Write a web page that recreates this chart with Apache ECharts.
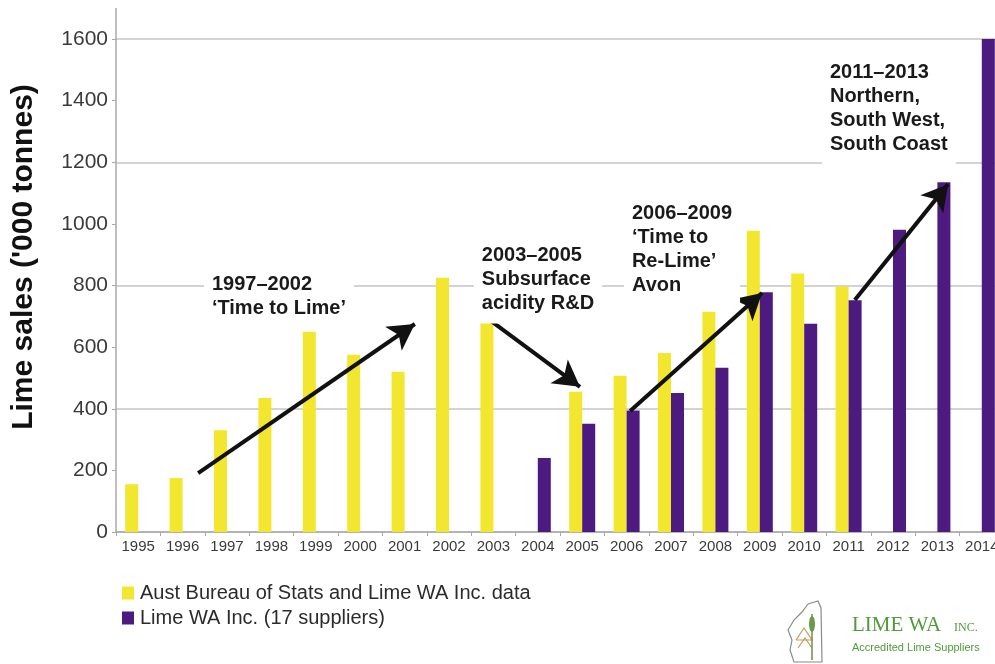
<!DOCTYPE html>
<html>
<head>
<meta charset="utf-8">
<title>Lime sales in Western Australia</title>
<script src="https://cdn.jsdelivr.net/npm/echarts@6/dist/echarts.min.js"></script>
<style>
  html, body { margin: 0; padding: 0; background: #ffffff; overflow: hidden; }
  /* the plot runs slightly past the right edge of the page, so the last bar is cut */
  #chart { width: 1004px; height: 664px; }
</style>
</head>
<body>
<div id="chart"></div>
<script>
// Years on the category axis
const years = ['1995', '1996', '1997', '1998', '1999', '2000', '2001', '2002', '2003', '2004',
               '2005', '2006', '2007', '2008', '2009', '2010', '2011', '2012', '2013', '2014'];

// Lime sales, '000 tonnes
const absData = [155, 175, 330, 435, 650, 575, 520, 825, 700, null,
                 455, 507, 581, 715, 978, 839, 797, null, null, null];
const limeWaData = [null, null, null, null, null, null, null, null, null, 240,
                    351, 394, 451, 533, 778, 676, 752, 981, 1135, 1600];

const seriesNames = ['Aust Bureau of Stats and Lime WA Inc. data', 'Lime WA Inc. (17 suppliers)'];

// Value axis ticks
const yMin = 0, yMax = 1600, yStep = 200, gridStep = 400;

// Campaign trend arrows, in (year index, tonnes) space
const trendFrom = [[1.35, 191], [7.86, 694], [11.08, 393], [16.14, 753]];
const trendTo   = [[6.23, 675], [9.95, 471], [14.05, 776], [18.24, 1129]];

// Campaign notes, anchored at their top-left corner in (year index, tonnes) space
const noteTexts = [
  "1997\u20132002\n\u2018Time to Lime\u2019",
  "2003\u20132005\nSubsurface\nacidity R&D",
  "2006\u20132009\n\u2018Time to\nRe-Lime\u2019\nAvon",
  "2011\u20132013\nNorthern,\nSouth West,\nSouth Coast"
];
const noteAnchors = [[1.66, 841], [7.74, 936], [11.12, 1074], [15.58, 1529]];

const YELLOW = '#f3e62e';
const PURPLE = '#4d1a80';
const AXIS_GREY = '#a9a9a9';
const TEXT_DARK = '#2b2b2b';

const chart = echarts.init(document.getElementById('chart'), null, { renderer: 'canvas' });

const option = {
  animation: false,
  backgroundColor: '#ffffff',
  textStyle: { fontFamily: 'Liberation Sans, Arial, sans-serif' },
  grid: { left: 116, top: 39, right: 0, height: 493, containLabel: false },
  legend: {
    data: seriesNames,
    orient: 'vertical',
    left: 117,
    top: 578,
    itemWidth: 12,
    itemHeight: 13,
    itemGap: 5,
    icon: 'rect',
    selectedMode: false,
    textStyle: { fontSize: 20, color: TEXT_DARK, padding: [0, 0, 0, 1] }
  },
  xAxis: [
    {
      type: 'category',
      data: years,
      axisLine: { onZero: false, lineStyle: { color: AXIS_GREY, width: 1.5 } },
      axisTick: { show: true, alignWithLabel: false, length: 4, lineStyle: { color: AXIS_GREY } },
      axisLabel: { color: '#3a3a3a', fontSize: 15, margin: 7, interval: 0 },
      splitLine: { show: false }
    },
    {
      // index space used to place trend arrows and notes
      type: 'value', min: -0.5, max: years.length - 0.5, show: false,
      axisLine: { onZero: false }
    }
  ],
  yAxis: [
    {
      type: 'value',
      min: yMin, max: yMax, interval: yStep,
      axisLine: { show: true, onZero: false, lineStyle: { color: AXIS_GREY, width: 1.5 } },
      axisTick: { show: true, length: 4, lineStyle: { color: AXIS_GREY } },
      axisLabel: { color: '#3a3a3a', fontSize: 21, margin: 8, formatter: (v) => String(v) },
      splitLine: { show: false }
    },
    {
      type: 'value',
      min: yMin, max: yMax, interval: gridStep,
      axisLine: { show: false, onZero: false },
      axisTick: { show: false },
      axisLabel: { show: false },
      splitLine: { show: true, lineStyle: { color: '#c4c4c4', width: 1.5 } }
    }
  ],
  series: [
    {
      name: seriesNames[0],
      type: 'bar',
      data: absData,
      barWidth: 13,
      barGap: '0%',
      itemStyle: { color: YELLOW },
      z: 3
    },
    {
      name: seriesNames[1],
      type: 'bar',
      data: limeWaData,
      barWidth: 13,
      barGap: '0%',
      itemStyle: { color: PURPLE },
      z: 3
    },
    {
      name: 'trends',
      type: 'line',
      xAxisIndex: 1,
      yAxisIndex: 0,
      data: [],
      z: 6,
      markLine: {
        silent: true,
        symbol: ['none', 'arrow'],
        symbolSize: [22, 26],
        label: { show: false },
        lineStyle: { color: '#111111', width: 4, type: 'solid' },
        emphasis: { disabled: true },
        data: trendFrom.map((p, i) => [{ coord: p }, { coord: trendTo[i] }])
      }
    }
  ]
};

chart.setOption(option);

// Notes, the axis top extension and the association logo
const NOTE_PAD = 8;
const graphics = noteTexts.map((t, i) => {
  const p = chart.convertToPixel({ seriesIndex: 2 }, noteAnchors[i]);
  return {
    type: 'text',
    x: p[0] - NOTE_PAD,
    y: p[1] - NOTE_PAD,
    z: 20,
    style: {
      text: t,
      fontFamily: 'Liberation Sans, Arial, sans-serif',
      fontWeight: 'bold',
      fontSize: 20,
      lineHeight: 24,
      fill: '#1a1a1a',
      backgroundColor: '#ffffff',
      padding: [NOTE_PAD, NOTE_PAD, NOTE_PAD, NOTE_PAD],
      align: 'left',
      verticalAlign: 'top'
    }
  };
});

const axisTop = chart.convertToPixel({ seriesIndex: 0 }, [0, yMax]);
const axisX = chart.convertToPixel({ xAxisIndex: 1 }, -0.5);
graphics.push({
  type: 'line',
  z: 1,
  shape: { x1: axisX, y1: axisTop[1], x2: axisX, y2: axisTop[1] - 31 },
  style: { stroke: AXIS_GREY, lineWidth: 1.5 }
});

// Axis title
graphics.push({
  type: 'text',
  x: 24,
  y: 257,
  rotation: Math.PI / 2,
  style: {
    text: "Lime sales ('000 tonnes)",
    fontFamily: 'Liberation Sans, Arial, sans-serif',
    fontWeight: 'bold',
    fontSize: 30,
    fill: '#111111',
    align: 'center',
    verticalAlign: 'middle'
  }
});

// LIME WA Inc. logo
const GREEN = '#4f9a3a';
graphics.push({
  type: 'group',
  x: 788,
  y: 600,
  children: [
    {
      type: 'polyline',
      shape: { points: [[20, 4], [30, 1], [33, 8], [34, 62], [6, 62], [2, 50], [4, 40], [0, 30], [6, 20], [14, 12], [20, 4]] },
      style: { stroke: '#8a8a8a', lineWidth: 1.2, fill: 'none' }
    },
    {
      type: 'polyline',
      shape: { points: [[8, 40], [16, 28], [24, 40], [8, 40]] },
      style: { stroke: '#c49a5a', lineWidth: 1.2, fill: 'none' }
    },
    {
      type: 'polyline',
      shape: { points: [[10, 48], [17, 38], [24, 48]] },
      style: { stroke: '#c49a5a', lineWidth: 1.2, fill: 'none' }
    },
    {
      type: 'line',
      shape: { x1: 24, y1: 14, x2: 24, y2: 60 },
      style: { stroke: '#6d8f4a', lineWidth: 1.5 }
    },
    {
      type: 'ellipse',
      shape: { cx: 24, cy: 24, rx: 3, ry: 8 },
      style: { fill: '#6d9a4a' }
    },
    {
      type: 'text',
      x: 64,
      y: 25,
      style: {
        text: 'LIME WA',
        fontFamily: 'Liberation Serif, serif',
        fontSize: 21,
        fill: GREEN,
        align: 'left',
        verticalAlign: 'middle'
      }
    },
    {
      type: 'text',
      x: 166,
      y: 28,
      style: {
        text: 'INC.',
        fontFamily: 'Liberation Serif, serif',
        fontSize: 12,
        fill: GREEN,
        align: 'left',
        verticalAlign: 'middle'
      }
    },
    {
      type: 'text',
      x: 64,
      y: 48,
      style: {
        text: 'Accredited Lime Suppliers',
        fontFamily: 'Liberation Sans, Arial, sans-serif',
        fontSize: 11,
        fill: GREEN,
        align: 'left',
        verticalAlign: 'middle'
      }
    }
  ]
});

chart.setOption({ graphic: graphics });
</script>
</body>
</html>
